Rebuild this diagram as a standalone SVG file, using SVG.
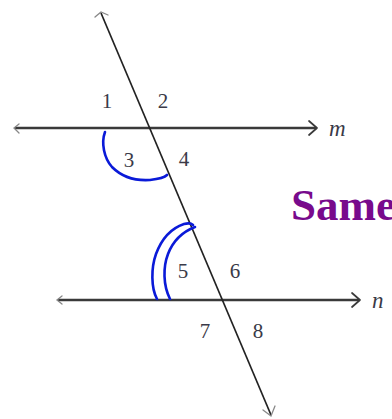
<svg xmlns="http://www.w3.org/2000/svg" width="392" height="419" viewBox="0 0 392 419">
<style>
.ln{stroke:#3a3a3a;stroke-width:2.6;fill:none}
.tr{stroke:#222;stroke-width:1.7;fill:none}
.ah{stroke:#3a3a3a;stroke-width:1.7;fill:none;stroke-linecap:round;stroke-linejoin:round}
.tk{stroke:#888;stroke-width:1.3;fill:none;stroke-linecap:round}
.arc{stroke:#0a1ad8;stroke-width:2.6;fill:none;stroke-linecap:round;stroke-linejoin:round}
.num{font-family:"Liberation Serif","DejaVu Serif",serif;font-size:21px;fill:#3a3a48;text-anchor:middle}
.var{font-family:"Liberation Serif","DejaVu Serif",serif;font-size:23px;font-style:italic;fill:#3a3a48}
.title{font-family:"Liberation Serif","DejaVu Serif",serif;font-size:45px;font-weight:bold;fill:#780a8c}
</style>
<rect width="392" height="419" fill="#fff"/>
<g id="connectors">
<g id="line-m">
<line class="ln" x1="15" y1="128" x2="316" y2="128"/>
<polyline class="ah" points="309,121 317,128 309,135"/>
<polyline class="tk" points="19,124 14,128 19,133"/>
</g>
<g id="line-n">
<line class="ln" x1="58" y1="300" x2="359" y2="300"/>
<polyline class="ah" points="352,293 360,300 352,307"/>
<polyline class="tk" points="62,296 57,300 62,304"/>
</g>
<g id="transversal">
<line class="tr" x1="101" y1="13" x2="271" y2="415"/>
<polyline class="tk" points="95,17 101,12 108,15"/>
<polyline class="tk" points="263,410 271,416 275,406"/>
</g>
</g>
<g id="arc-3">
<path class="arc" d="M105,132 C101,143 104,158 112,167 C122,177 135,181 150,180 C158,179 164,178 167,175"/>
</g>
<g id="arc-5">
<path class="arc" d="M157,299 C151,288 151,268 156,254 C162,238 172,228 184,224 C188,223 191,223 193,225"/>
<path class="arc" d="M170,299 C163,285 163,267 168,254 C173,241 182,232 195,227"/>
</g>
<g id="labels">
<text class="num" x="107" y="108">1</text>
<text class="num" x="163" y="108">2</text>
<text class="num" x="129" y="167">3</text>
<text class="num" x="184" y="166">4</text>
<text class="num" x="183" y="278">5</text>
<text class="num" x="235" y="278">6</text>
<text class="num" x="205" y="338">7</text>
<text class="num" x="258" y="338">8</text>
<text class="var" x="329" y="136">m</text>
<text class="var" x="372" y="308">n</text>
</g>
<g id="title">
<text class="title" x="291" y="220">Same</text>
</g>
</svg>
